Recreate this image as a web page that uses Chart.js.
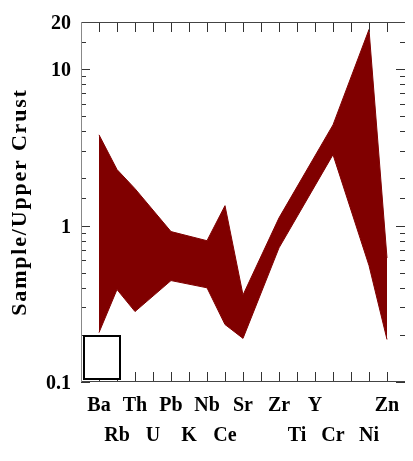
<!DOCTYPE html>
<html>
<head>
<meta charset="utf-8">
<script src="https://cdn.jsdelivr.net/npm/chart.js@4.4.0/dist/chart.umd.min.js"></script>
<style>
  html, body { margin: 0; padding: 0; background: #fff; overflow: hidden; }
  #wrap { width: 414px; height: 461px; }
</style>
</head>
<body>
<div id="wrap"><canvas id="grafico" width="414" height="461"></canvas></div>
<script>
// Elementos del eje x (las posiciones vacías no llevan nombre ni dato)
const elementos = ["Ba", "Rb", "Th", "U", "Pb", "K", "Nb", "Ce", "Sr", "", "Zr", "Ti", "Y", "Cr", "", "Ni", "Zn"];
// Muestra / corteza superior: envolvente máxima y mínima
const valoresMax = [3.8, 2.28, 1.72, null, 0.915, null, 0.80, 1.34, 0.36, null, 1.12, null, null, 4.4, null, 17.9, 0.62];
const valoresMin = [0.207, 0.39, 0.282, null, 0.445, null, 0.40, 0.233, 0.19, null, 0.72, null, null, 2.84, null, 0.555, 0.187];
// Etiquetas visibles del eje y
const marcasY = [0.1, 1, 10, 20];

const fuente = '"Liberation Serif", "Times New Roman", serif';

function puntos(valores) {
  return valores
    .map((v, i) => ({ x: i, y: v }))
    .filter(p => p.y !== null);
}

// Marco, marcas hacia dentro, título vertical y recuadro blanco
const marcoPlugin = {
  id: 'marco',
  afterDraw(chart) {
    const { ctx, chartArea: a, scales: { x, y } } = chart;
    ctx.save();
    ctx.lineWidth = 1;

    // marcas del eje x (abajo y arriba)
    ctx.strokeStyle = '#333';
    ctx.beginPath();
    elementos.forEach((e, i) => {
      const px = Math.round(x.getPixelForValue(i)) + 0.5;
      ctx.moveTo(px, a.bottom); ctx.lineTo(px, a.bottom - 10);
      ctx.moveTo(px, a.top); ctx.lineTo(px, a.top + 10);
    });
    ctx.stroke();

    // marcas del eje y (izquierda y derecha)
    ctx.beginPath();
    y.ticks.forEach(t => {
      const lg = Math.log10(t.value);
      const mayor = Math.abs(lg - Math.round(lg)) < 1e-6;
      const largo = mayor ? 9 : 5;
      const py = Math.round(y.getPixelForValue(t.value)) + 0.5;
      ctx.moveTo(a.left, py); ctx.lineTo(a.left + largo, py);
      ctx.moveTo(a.right, py); ctx.lineTo(a.right - largo, py);
    });
    ctx.stroke();

    // bordes
    ctx.strokeStyle = '#444';
    ctx.beginPath();
    ctx.moveTo(a.left, a.top + 0.5); ctx.lineTo(a.right, a.top + 0.5);
    ctx.moveTo(a.left, a.bottom - 0.5); ctx.lineTo(a.right, a.bottom - 0.5);
    ctx.stroke();
    ctx.strokeStyle = '#888';
    ctx.beginPath();
    ctx.moveTo(a.left + 0.5, a.top); ctx.lineTo(a.left + 0.5, a.bottom);
    ctx.stroke();

    // recuadro blanco abajo a la izquierda
    ctx.fillStyle = '#fff';
    ctx.strokeStyle = '#000';
    ctx.lineWidth = 2;
    ctx.fillRect(a.left + 3, a.bottom - 46, 36, 43);
    ctx.strokeRect(a.left + 3, a.bottom - 46, 36, 43);

    // título del eje y
    ctx.translate(25.5, (a.top + a.bottom) / 2);
    ctx.rotate(-Math.PI / 2);
    ctx.font = 'bold 22px ' + fuente;
    ctx.letterSpacing = '1.8px';
    ctx.fillStyle = '#000';
    ctx.textAlign = 'center';
    ctx.textBaseline = 'alphabetic';
    ctx.fillText('Sample/Upper Crust', 0, 0);
    ctx.restore();
  }
};

const ctx = document.getElementById('grafico').getContext('2d');
new Chart(ctx, {
  type: 'line',
  data: {
    datasets: [
      {
        data: puntos(valoresMax),
        fill: '+1',
        backgroundColor: '#800000',
        borderColor: '#800000',
        borderWidth: 1,
        pointRadius: 0,
        tension: 0
      },
      {
        data: puntos(valoresMin),
        fill: false,
        borderColor: '#800000',
        borderWidth: 1,
        pointRadius: 0,
        tension: 0
      }
    ]
  },
  options: {
    responsive: false,
    animation: false,
    layout: { padding: { top: 22, left: 0, right: 0, bottom: 0 } },
    plugins: {
      legend: { display: false },
      tooltip: { enabled: false }
    },
    scales: {
      x: {
        type: 'linear',
        min: -1,
        max: 17,
        afterFit: s => { s.height = 79; },
        grid: { display: false, drawTicks: false },
        border: { display: false },
        ticks: {
          stepSize: 1,
          autoSkip: false,
          maxRotation: 0,
          padding: 9,
          color: '#000',
          font: { family: fuente, size: 20, weight: 'bold', lineHeight: 1.5 },
          callback: v => {
            const nombre = elementos[v];
            if (!nombre) return '';
            return v % 2 === 0 ? [nombre, ''] : ['', nombre];
          }
        }
      },
      y: {
        type: 'logarithmic',
        min: 0.1,
        max: 20,
        afterFit: s => { s.width = 81; },
        grid: { display: false, drawTicks: false },
        border: { display: false },
        ticks: {
          autoSkip: false,
          padding: 10,
          labelOffset: 2,
          color: '#000',
          font: { family: fuente, size: 20, weight: 'bold' },
          callback: v => {
            const m = marcasY.find(k => Math.abs(k - v) / k < 1e-6);
            return m === undefined ? '' : String(m);
          }
        }
      }
    }
  },
  plugins: [marcoPlugin]
});
</script>
</body>
</html>
